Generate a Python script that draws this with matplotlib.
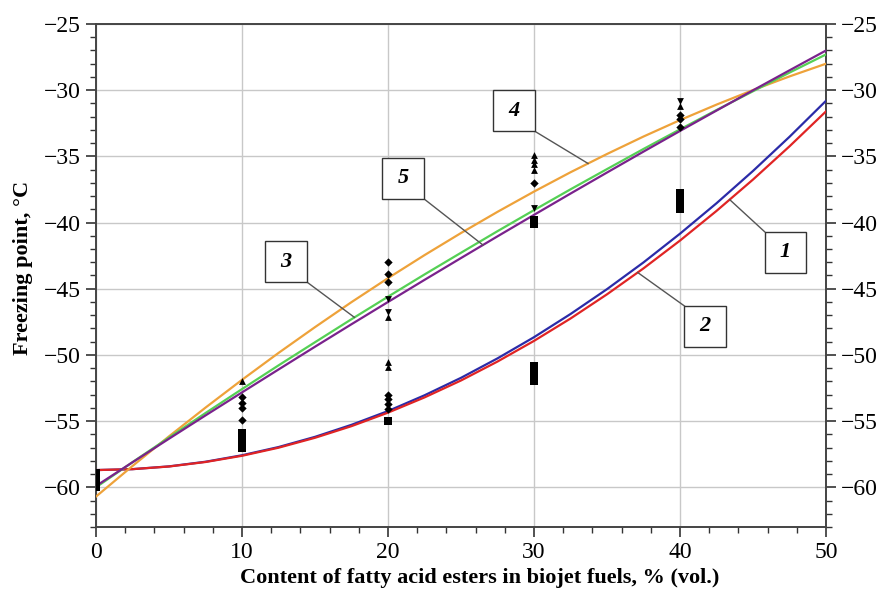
#!/usr/bin/env python3
"""
Freezing point of biojet fuels vs. content of fatty acid esters.
"""

import numpy as np
import matplotlib
matplotlib.use("Agg")
import matplotlib.pyplot as plt
from matplotlib.patches import Rectangle

# Content of esters, % (vol.) where the fitted curves were read
x_curve = [0, 2.5, 5, 7.5, 10, 12.5, 15, 17.5, 20, 22.5, 25,
           27.5, 30, 32.5, 35, 37.5, 40, 42.5, 45, 47.5, 50]

# Fitted curves (freezing point, deg C)
curve_1 = [-58.70, -58.63, -58.42, -58.07, -57.58, -56.96, -56.19, -55.28, -54.24, -53.05, -51.73,
           -50.26, -48.66, -46.91, -45.03, -43.01, -40.84, -38.54, -36.10, -33.52, -30.80]
curve_2 = [-58.70, -58.63, -58.43, -58.09, -57.62, -57.01, -56.26, -55.38, -54.36, -53.21, -51.93,
           -50.50, -48.94, -47.25, -45.42, -43.46, -41.36, -39.12, -36.75, -34.24, -31.60]
curve_3 = [-60.00, -58.10, -56.24, -54.39, -52.58, -50.79, -49.04, -47.30, -45.60, -43.92, -42.28,
           -40.65, -39.06, -37.49, -35.96, -34.44, -32.96, -31.50, -30.08, -28.67, -27.30]
curve_4 = [-60.70, -58.39, -56.15, -53.98, -51.88, -49.85, -47.90, -46.01, -44.20, -42.46, -40.79,
           -39.19, -37.66, -36.20, -34.82, -33.50, -32.26, -31.09, -29.99, -28.96, -28.00]
curve_5 = [-59.90, -58.11, -56.33, -54.57, -52.83, -51.10, -49.38, -47.68, -46.00, -44.33, -42.68,
           -41.04, -39.42, -37.81, -36.22, -34.64, -33.08, -31.54, -30.01, -28.50, -27.00]

# Measured points (black markers)
diamond_x = [10, 10, 10, 10, 20, 20, 20, 20, 20, 20, 20, 30, 40, 40, 40]
diamond_y = [-53.2, -53.6, -54.0, -54.9, -43.0, -43.85, -44.5, -53.0, -53.35, -53.7, -54.1, -37.0, -31.9, -32.2, -32.8]
tri_up_x = [10, 20, 20, 20, 30, 30, 30, 30, 40]
tri_up_y = [-52.0, -47.15, -50.5, -50.9, -34.9, -35.3, -35.6, -36.0, -31.2]
tri_down_x = [20, 20, 30, 40]
tri_down_y = [-45.8, -46.75, -38.9, -30.85]
square_x = [0, 0, 0, 0, 10, 10, 10, 10, 20, 30, 30, 30, 30, 30, 30, 30, 40, 40, 40, 40, 40]
square_y = [-58.9, -59.3, -59.7, -60.0, -55.9, -56.3, -56.7, -57.0, -55.0, -39.8, -40.1,
            -50.8, -51.1, -51.4, -51.7, -52.0, -37.8, -38.1, -38.4, -38.7, -39.0]

# Curve labels: (text, box lower-left x, box lower-left y, corner where leader starts, leader x, curve)
labels = [
    ("1", 45.8, -43.8, "tl", 43.4, curve_2),
    ("2", 40.3, -49.4, "tl", 37.1, curve_2),
    ("3", 11.6, -44.5, "br", 17.7, curve_3),
    ("4", 27.2, -33.1, "br", 33.7, curve_4),
    ("5", 19.6, -38.2, "br", 26.5, curve_5),
]

plt.rcParams['font.family'] = ['Liberation Serif', 'DejaVu Serif']

fig = plt.figure(figsize=(8.81, 5.94), dpi=100)
ax = fig.add_axes([0.109, 0.1128, 0.8286, 0.8468])

ax.plot(x_curve, curve_1, color='#2b2ba8', lw=1.6, zorder=3)
ax.plot(x_curve, curve_2, color='#e02424', lw=1.6, zorder=3)
ax.plot(x_curve, curve_4, color='#eea23a', lw=1.6, zorder=3)
ax.plot(x_curve, curve_3, color='#55d055', lw=1.6, zorder=3)
ax.plot(x_curve, curve_5, color='#7a228c', lw=1.6, zorder=3)

ax.scatter(diamond_x, diamond_y, marker='D', s=18, color='black', zorder=4, linewidths=0)
ax.scatter(tri_up_x, tri_up_y, marker='^', s=24, color='black', zorder=4, linewidths=0)
ax.scatter(tri_down_x, tri_down_y, marker='v', s=24, color='black', zorder=4, linewidths=0)
ax.scatter(square_x, square_y, marker='s', s=32, color='black', zorder=4, linewidths=0)

# boxed labels with leader lines
box_w, box_h = 2.85, 3.1
for text, bx, by, corner, lx, curve in labels:
    ax.add_patch(Rectangle((bx, by), box_w, box_h, facecolor='white',
                           edgecolor='#333333', lw=1.0, zorder=6))
    ax.text(bx + box_w / 2, by + box_h / 2, text, ha='center', va='center',
            fontsize=16, fontstyle='italic', fontweight='bold', zorder=7)
    if corner == "br":
        cx, cy = bx + box_w, by
    else:
        cx, cy = bx, by + box_h
    ly = np.interp(lx, x_curve, curve)
    ax.plot([cx, lx], [cy, ly], color='#555555', lw=1.0, zorder=5)

ax.set_xlim(0, 50)
ax.set_ylim(-63, -25)
ax.set_xticks(np.arange(0, 51, 10))
ax.set_xticks(np.arange(0, 51, 2), minor=True)
ax.set_yticks(np.arange(-60, -24, 5))
ax.set_yticks(np.arange(-63, -24, 1), minor=True)
ax.grid(True, which='major', color='#c8c8c8', lw=1.0, zorder=0)
ax.set_axisbelow(True)

ax.tick_params(which='both', direction='out', colors='#333333', labelcolor='black',
               labelsize=17, right=True, labelright=True, top=False)
ax.tick_params(which='major', length=7, width=1.2, pad=4)
ax.tick_params(which='minor', length=4, width=1.0)
for s in ax.spines.values():
    s.set_color('#444444')
    s.set_linewidth(1.4)

ax.set_xlabel("Content of fatty acid esters in biojet fuels, % (vol.)",
              fontsize=16, fontweight='bold')
ax.set_ylabel("Freezing point, °C", fontsize=16, fontweight='bold')
ax.xaxis.set_label_coords(0.525, -0.082)
ax.yaxis.set_label_coords(-0.087, 0.515)

fig.savefig("out.png", dpi=100)
